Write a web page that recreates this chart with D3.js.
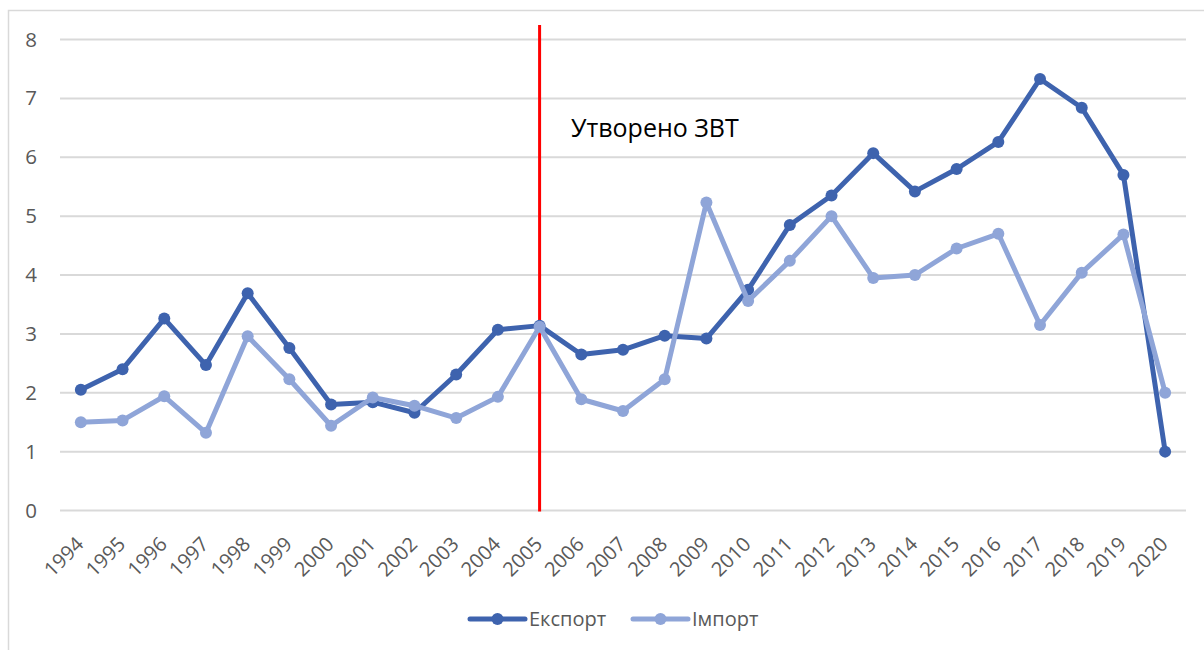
<!DOCTYPE html>
<html>
<head>
<meta charset="utf-8">
<script src="https://cdn.jsdelivr.net/npm/d3@7"></script>
<style>
  body { margin: 0; background: #fff; }
  text { font-family: "Open Sans", "Noto Sans", sans-serif; }
</style>
</head>
<body>
<div id="chart"></div>
<script>
var years = ["1994","1995","1996","1997","1998","1999","2000","2001","2002","2003","2004","2005","2006",
  "2007","2008","2009","2010","2011","2012","2013","2014","2015","2016","2017","2018","2019","2020"];

var exportVals = [2.05, 2.40, 3.26, 2.47, 3.69, 2.76, 1.80, 1.84, 1.66, 2.31, 3.07, 3.14, 2.65,
  2.73, 2.97, 2.92, 3.75, 4.85, 5.35, 6.07, 5.42, 5.80, 6.26, 7.33, 6.84, 5.70, 1.00];

var importVals = [1.50, 1.53, 1.94, 1.32, 2.96, 2.23, 1.44, 1.92, 1.78, 1.57, 1.93, 3.12, 1.89,
  1.69, 2.23, 5.23, 3.56, 4.24, 5.00, 3.95, 4.00, 4.45, 4.70, 3.15, 4.04, 4.69, 2.00];

var yTicks = [0, 1, 2, 3, 4, 5, 6, 7, 8];
var seriesNames = ["Експорт", "Імпорт"];
var markerYear = "2005";
var markerLabel = "Утворено ЗВТ";

var width = 1204, height = 650;
var margin = {top: 39.5, right: 18, bottom: 139.5, left: 60};

var svg = d3.select("#chart").append("svg")
    .attr("width", width)
    .attr("height", height);

// frame like the excel chart area
svg.append("rect")
    .attr("x", 8.5).attr("y", 10.5)
    .attr("width", 1210).attr("height", 660)
    .attr("fill", "none")
    .attr("stroke", "#d9d9d9")
    .attr("stroke-width", 1.5);

var x = d3.scaleBand()
    .domain(years)
    .range([margin.left, width - margin.right]);

var y = d3.scaleLinear()
    .domain([0, 8])
    .range([height - margin.bottom, margin.top]);

function cx(d) { return x(d) + x.bandwidth() / 2; }

// gridlines
svg.append("g")
    .selectAll("line")
    .data(yTicks)
  .enter().append("line")
    .attr("x1", margin.left)
    .attr("x2", width - margin.right)
    .attr("y1", function(d) { return y(d); })
    .attr("y2", function(d) { return y(d); })
    .attr("stroke", "#d9d9d9")
    .attr("stroke-width", 2);

// y axis labels
var yAxis = svg.append("g")
    .attr("transform", "translate(" + margin.left + ",0)")
    .call(d3.axisLeft(y).tickValues(yTicks).tickSize(0).tickPadding(23));
yAxis.select(".domain").remove();
yAxis.selectAll("text")
    .style("font-size", "20.5px")
    .attr("fill", "#595959");

// x axis labels, rotated like excel
var xAxis = svg.append("g")
    .attr("transform", "translate(0," + (height - margin.bottom) + ")")
    .call(d3.axisBottom(x).tickSize(0));
xAxis.select(".domain").remove();
xAxis.selectAll("text")
    .style("font-size", "20px")
    .attr("fill", "#595959")
    .attr("text-anchor", "end")
    .attr("dy", 0)
    .attr("y", 0)
    .attr("transform", "translate(4,35) rotate(-45)");

// red vertical marker
svg.append("line")
    .attr("x1", cx(markerYear))
    .attr("x2", cx(markerYear))
    .attr("y1", 25)
    .attr("y2", y(0) + 1)
    .attr("stroke", "#ff0000")
    .attr("stroke-width", 3);

svg.append("text")
    .attr("x", 571)
    .attr("y", 137)
    .style("font-size", "25px")
    .attr("fill", "#000")
    .text(markerLabel);

var series = [
  {name: seriesNames[0], values: exportVals, color: "#3e63ae"},
  {name: seriesNames[1], values: importVals, color: "#8fa5d8"}
];

var line = d3.line()
    .x(function(d, i) { return cx(years[i]); })
    .y(function(d) { return y(d); });

// export first, import drawn over it
series.forEach(function(s) {
  var g = svg.append("g");
  g.append("path")
      .datum(s.values)
      .attr("fill", "none")
      .attr("stroke", s.color)
      .attr("stroke-width", 5)
      .attr("stroke-linejoin", "round")
      .attr("d", line);
  g.selectAll("circle")
      .data(s.values)
    .enter().append("circle")
      .attr("cx", function(d, i) { return cx(years[i]); })
      .attr("cy", function(d) { return y(d); })
      .attr("r", 6)
      .attr("fill", s.color);
});

// legend
var legendX = [470, 633];
var legend = svg.append("g");
series.forEach(function(s, i) {
  var lg = legend.append("g").attr("transform", "translate(" + legendX[i] + ",619)");
  lg.append("line")
      .attr("x1", 0).attr("x2", 55)
      .attr("stroke", s.color)
      .attr("stroke-width", 5)
      .attr("stroke-linecap", "round");
  lg.append("circle")
      .attr("cx", 27.5).attr("r", 6)
      .attr("fill", s.color);
  lg.append("text")
      .attr("x", 59)
      .attr("y", 7)
      .style("font-size", "20px")
      .attr("fill", "#595959")
      .text(s.name);
});
</script>
</body>
</html>
